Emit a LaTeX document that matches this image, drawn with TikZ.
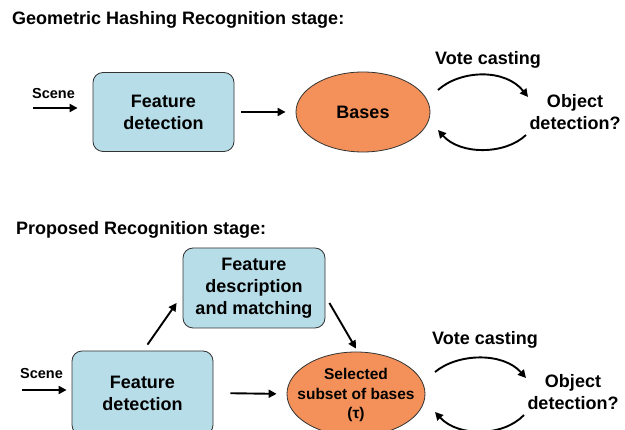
\documentclass[tikz,border=0pt]{standalone}
\usepackage{fontspec}
\setmainfont{Liberation Sans}
\usetikzlibrary{shapes.geometric,arrows.meta}
\definecolor{boxfill}{HTML}{B7DDE8}
\definecolor{ellfill}{HTML}{F4915A}
\definecolor{edge}{HTML}{333333}
\tikzset{
  every node/.style={font=\bfseries},
  big/.style={font=\bfseries\fontsize{18}{22}\selectfont},
  small/.style={font=\bfseries\fontsize{14.5}{17}\selectfont},
  mid/.style={font=\bfseries\fontsize{15.5}{19.5}\selectfont},
  stagebox/.style={draw=edge, line width=0.8pt, fill=boxfill, rounded corners=10pt,
    minimum width=141pt, inner sep=0pt, align=center, big},
  basesell/.style={ellipse, draw=edge, line width=0.8pt, fill=ellfill, inner sep=0pt},
  arr/.style={line width=1.9pt, -{Triangle[length=8pt,width=8pt]}},
}
\begin{document}
\begin{tikzpicture}[x=1pt, y=-1pt]
  \useasboundingbox (0,0) rectangle (625,430);
  \clip (0,0) rectangle (625,430);
  \fill[white] (0,0) rectangle (625,430);

  % ---- classic geometric hashing ----
  \node[big, anchor=base west, inner sep=0pt] (title1) at (12,25) {Geometric Hashing Recognition stage:};
  \node[small, anchor=base, inner sep=0pt] (scene1) at (53.5,99) {Scene};
  \node[stagebox, minimum height=79pt] (feat1) at (163.5,112) {Feature\\detection};
  \node[basesell, minimum width=134pt, minimum height=80pt] (bases) at (363,112) {};
  \node[big, inner sep=0pt] (baseslbl) at (bases.center) {Bases};
  \node[big, anchor=base, inner sep=0pt] (vote1) at (488,65) {Vote casting};
  \node[big, align=center, inner sep=0pt] (obj1) at (575,112) {Object\\detection?};

  \coordinate (s1) at (33,108);
  \draw[arr, shorten >=15pt] (s1) -- (s1 -| feat1.west);
  \draw[arr, shorten <=7pt, shorten >=10pt] (feat1.east) -- (bases.west);

  \coordinate (c1a) at (438,90);
  \coordinate (c1b) at (528,97);
  \coordinate (c1c) at (526,135);
  \coordinate (c1d) at (438,130);
  \draw[arr] (c1a) .. controls (460,70) and (505,68) .. (c1b);
  \draw[arr] (c1c) .. controls (505,155) and (460,155) .. (c1d);

  % ---- proposed pipeline ----
  \node[big, anchor=base west, inner sep=0pt] (title2) at (16,235) {Proposed Recognition stage:};
  \node[small, anchor=base, inner sep=0pt] (scene2) at (41.5,379) {Scene};
  \node[stagebox, minimum height=84pt] (feat2) at (142.5,393) {Feature\\detection};
  \node[stagebox, minimum width=142pt, minimum height=80pt] (desc) at (254,288)
    {Feature\\description\\and matching};
  \node[basesell, minimum width=138pt, minimum height=84pt] (subset) at (356,394) {};
  \node[mid, align=center, inner sep=0pt] (subsetlbl) at ([yshift=-1pt]subset.center)
    {Selected\\subset of bases\\(τ)};
  \node[big, anchor=base, inner sep=0pt] (vote2) at (485,345) {Vote casting};
  \node[big, align=center, inner sep=0pt] (obj2) at (573,392) {Object\\detection?};

  \coordinate (s2) at (22,390);
  \draw[arr, shorten >=5pt] (s2) -- (s2 -| feat2.west);
  \draw[arr, shorten <=17pt, shorten >=10pt] (feat2.east) -- (subset.west);
  \draw[arr] ([xshift=5pt,yshift=6pt]feat2.north) -- ([xshift=-6pt,yshift=-15pt]desc.west);
  \draw[arr] ([xshift=4pt,yshift=-15pt]desc.east) -- ([yshift=3pt]subset.north);

  \coordinate (c2a) at (435,372);
  \coordinate (c2b) at (526,378);
  \coordinate (c2c) at (524,415);
  \coordinate (c2d) at (435,412);
  \draw[arr] (c2a) .. controls (458,353) and (503,352) .. (c2b);
  \draw[arr] (c2c) .. controls (503,437) and (458,437) .. (c2d);
\end{tikzpicture}
\end{document}
